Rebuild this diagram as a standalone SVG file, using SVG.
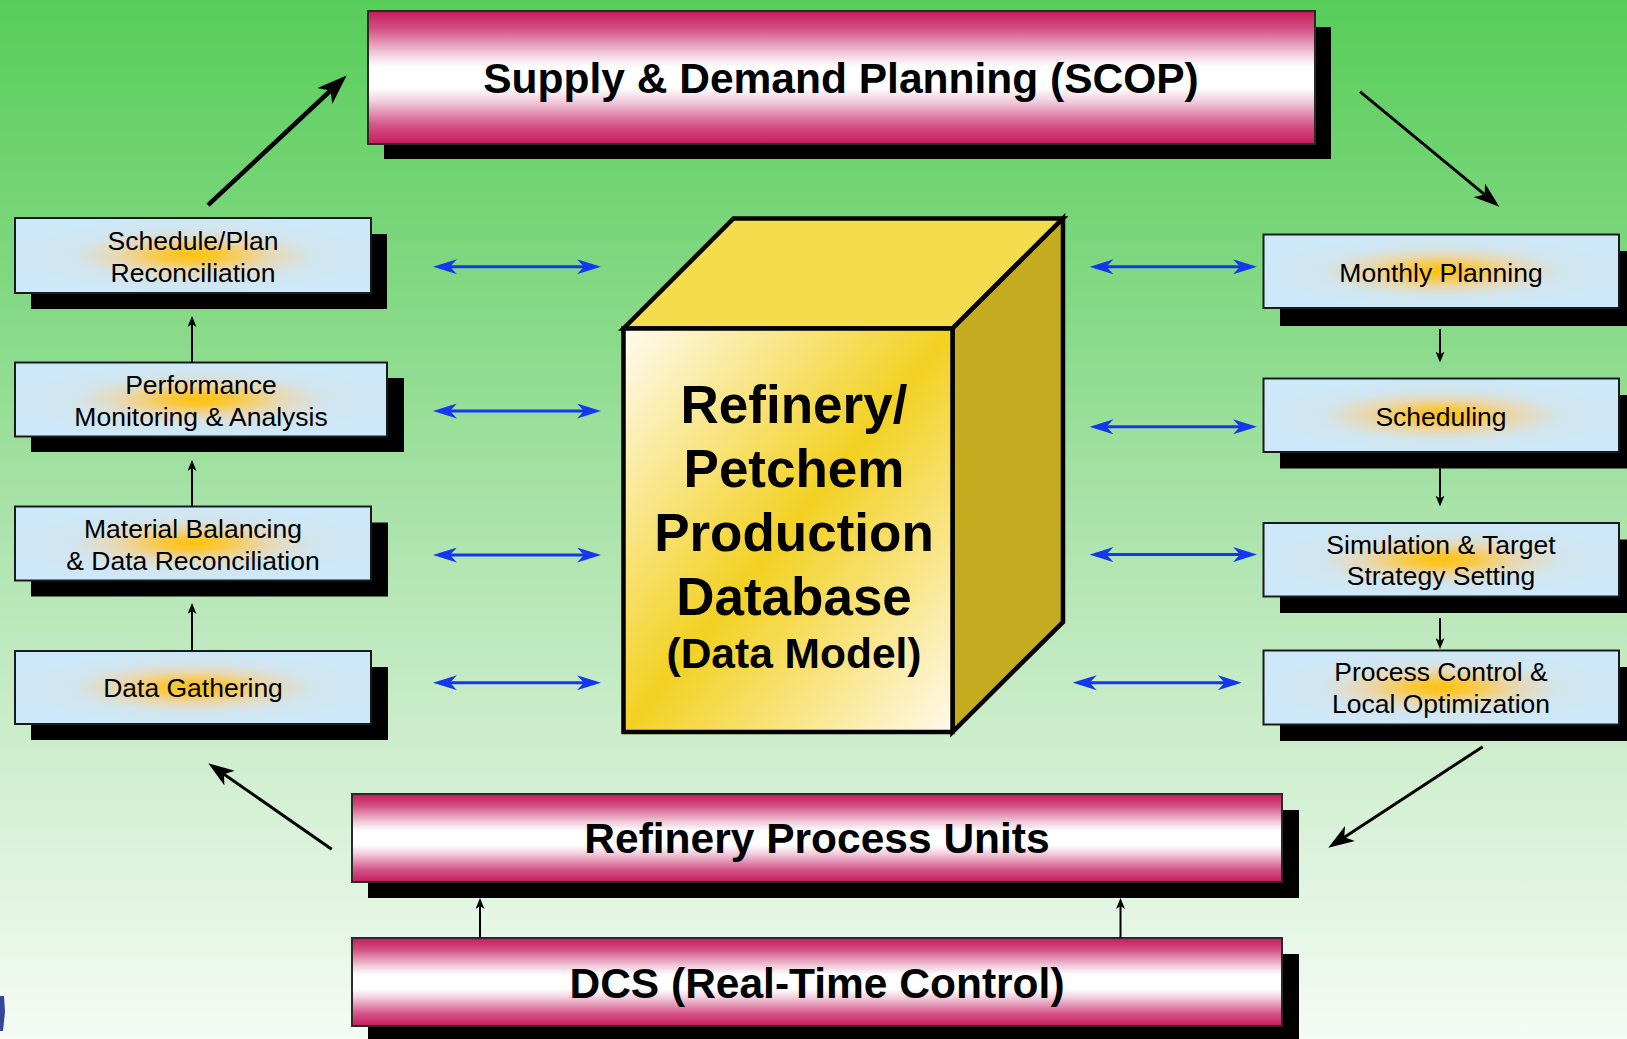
<svg xmlns="http://www.w3.org/2000/svg" width="1627" height="1039" viewBox="0 0 1627 1039">
  <defs>
    <linearGradient id="bg" x1="0" y1="0" x2="0" y2="1">
      <stop offset="0" stop-color="#57CD59"/>
      <stop offset="0.3" stop-color="#86D986"/>
      <stop offset="0.6" stop-color="#BCE8BC"/>
      <stop offset="1" stop-color="#F5FBF5"/>
    </linearGradient>
    <linearGradient id="barFill" x1="0" y1="0" x2="0" y2="1">
      <stop offset="0" stop-color="#C71A5A"/>
      <stop offset="0.14" stop-color="#D45487"/>
      <stop offset="0.32" stop-color="#F1CCDB"/>
      <stop offset="0.42" stop-color="#FFFFFF"/>
      <stop offset="0.58" stop-color="#FFFFFF"/>
      <stop offset="0.68" stop-color="#F1CCDB"/>
      <stop offset="0.86" stop-color="#D45487"/>
      <stop offset="1" stop-color="#C71A5A"/>
    </linearGradient>
    <radialGradient id="glow" cx="0.5" cy="0.5" r="0.5">
      <stop offset="0" stop-color="#FFC20A"/>
      <stop offset="0.18" stop-color="#F9C842"/>
      <stop offset="0.42" stop-color="#E8D8B2"/>
      <stop offset="0.68" stop-color="#D2E5EE"/>
      <stop offset="1" stop-color="#CDE8F8"/>
    </radialGradient>
    <linearGradient id="cubeFront" x1="0" y1="0" x2="1" y2="1">
      <stop offset="0" stop-color="#FFFBF2"/>
      <stop offset="0.5" stop-color="#F2D122"/>
      <stop offset="1" stop-color="#FFF9EC"/>
    </linearGradient>
    <marker id="blueHead" markerUnits="userSpaceOnUse" viewBox="0 0 24 15" refX="18" refY="7.5" markerWidth="24" markerHeight="15" orient="auto-start-reverse">
      <path d="M0,0 L24,7.5 L0,15 L7,7.5 Z" fill="#1438F0"/>
    </marker>
    <marker id="thickHead" markerUnits="userSpaceOnUse" viewBox="0 0 30 22" refX="22" refY="11" markerWidth="30" markerHeight="22" orient="auto">
      <path d="M0,0 L30,11 L0,22 L8,11 Z" fill="#000"/>
    </marker>
    <marker id="thinHead" markerUnits="userSpaceOnUse" viewBox="0 0 26 18" refX="20" refY="9" markerWidth="26" markerHeight="18" orient="auto">
      <path d="M0,0 L26,9 L0,18 L7,9 Z" fill="#000"/>
    </marker>
    <marker id="smallHead" markerUnits="userSpaceOnUse" viewBox="0 0 11 9" refX="8" refY="4.5" markerWidth="11" markerHeight="9" orient="auto">
      <path d="M0,0 L11,4.5 L0,9 L3,4.5 Z" fill="#000"/>
    </marker>
  </defs>
  <style>
    .shadow { fill: #000; }
    .bar { fill: url(#barFill); stroke: #2a2a2a; stroke-width: 2; }
    .box { fill: url(#glow); stroke: #1a1a1a; stroke-width: 2; }
    .barText { font-family: "Liberation Sans", Arial, sans-serif; font-weight: bold; font-size: 42.5px; text-anchor: middle; fill: #000; }
    .boxText { font-family: "Liberation Sans", Arial, sans-serif; font-size: 26.5px; text-anchor: middle; fill: #000; }
    .cubeText { font-family: "Liberation Sans", Arial, sans-serif; font-weight: bold; font-size: 53px; text-anchor: middle; fill: #000; }
    .cubeSub { font-family: "Liberation Sans", Arial, sans-serif; font-weight: bold; font-size: 42.5px; text-anchor: middle; fill: #000; }
    .blue { stroke: #1438F0; stroke-width: 3; fill: none; marker-start: url(#blueHead); marker-end: url(#blueHead); }
    .flow { stroke: #000; stroke-width: 3; fill: none; marker-end: url(#thinHead); }
    .flowThick { stroke: #000; stroke-width: 4.5; fill: none; marker-end: url(#thickHead); }
    .step { stroke: #000; stroke-width: 2; fill: none; marker-end: url(#smallHead); }
  </style>

  <!-- background -->
  <rect x="0" y="0" width="1627" height="1039" fill="url(#bg)"/>
  <polygon points="0,996 4,996 5,1012 3,1031 0,1031" fill="#34479A"/>

  <!-- planning bar -->
  <g id="node-scop">
    <rect class="shadow" x="384" y="27" width="947" height="132"/>
    <rect class="bar" x="368" y="11" width="947" height="133"/>
    <text class="barText" x="841" y="93">Supply &amp; Demand Planning (SCOP)</text>
  </g>

  <!-- process units bar -->
  <g id="node-process-units">
    <rect class="shadow" x="368" y="810" width="931" height="88"/>
    <rect class="bar" x="352" y="794" width="930" height="88"/>
    <text class="barText" x="817" y="853">Refinery Process Units</text>
  </g>

  <!-- DCS bar -->
  <g id="node-dcs">
    <rect class="shadow" x="368" y="954" width="931" height="90"/>
    <rect class="bar" x="352" y="938" width="930" height="88"/>
    <text class="barText" x="817" y="998">DCS (Real-Time Control)</text>
  </g>

  <!-- left column -->
  <g id="node-schedule-recon">
    <rect class="shadow" x="31" y="234" width="356" height="75"/>
    <rect class="box" x="15" y="218" width="356" height="75"/>
    <text class="boxText" x="193" y="250">Schedule/Plan</text>
    <text class="boxText" x="193" y="282">Reconciliation</text>
  </g>
  <g id="node-performance">
    <rect class="shadow" x="31" y="378" width="373" height="74"/>
    <rect class="box" x="15" y="362.5" width="372" height="74"/>
    <text class="boxText" x="201" y="393.5">Performance</text>
    <text class="boxText" x="201" y="425.5">Monitoring &amp; Analysis</text>
  </g>
  <g id="node-material">
    <rect class="shadow" x="31" y="522.5" width="357" height="74"/>
    <rect class="box" x="15" y="506.5" width="356" height="74"/>
    <text class="boxText" x="193" y="538">Material Balancing</text>
    <text class="boxText" x="193" y="570">&amp; Data Reconciliation</text>
  </g>
  <g id="node-data-gathering">
    <rect class="shadow" x="31" y="667" width="357" height="73"/>
    <rect class="box" x="15" y="651" width="356" height="73"/>
    <text class="boxText" x="193" y="697">Data Gathering</text>
  </g>

  <!-- right column -->
  <g id="node-monthly">
    <rect class="shadow" x="1280" y="251" width="356" height="75"/>
    <rect class="box" x="1263.5" y="234.5" width="355.5" height="73.5"/>
    <text class="boxText" x="1441" y="282">Monthly Planning</text>
  </g>
  <g id="node-scheduling">
    <rect class="shadow" x="1280" y="395" width="356" height="73.5"/>
    <rect class="box" x="1263.5" y="378.5" width="355.5" height="73.5"/>
    <text class="boxText" x="1441" y="425.5">Scheduling</text>
  </g>
  <g id="node-simulation">
    <rect class="shadow" x="1280" y="539.5" width="356" height="73.5"/>
    <rect class="box" x="1263.5" y="523" width="355.5" height="73.5"/>
    <text class="boxText" x="1441" y="553.5">Simulation &amp; Target</text>
    <text class="boxText" x="1441" y="585">Strategy Setting</text>
  </g>
  <g id="node-process-control">
    <rect class="shadow" x="1280" y="667" width="356" height="74"/>
    <rect class="box" x="1263.5" y="650.5" width="355.5" height="74"/>
    <text class="boxText" x="1441" y="680.5">Process Control &amp;</text>
    <text class="boxText" x="1441" y="712.5">Local Optimization</text>
  </g>

  <!-- production database cube -->
  <g id="node-database" stroke="#000" stroke-width="4.5" stroke-linejoin="miter">
    <polygon points="623.5,328.5 733.5,218.5 1063,218.5 952.5,328.5" fill="#F5DC4C"/>
    <polygon points="952.5,328.5 1063,218.5 1063,622 952.5,732" fill="#C4AB1F"/>
    <rect x="623.5" y="328.5" width="329" height="403.5" fill="url(#cubeFront)"/>
    <g stroke="none">
      <text class="cubeText" x="794" y="423">Refinery/</text>
      <text class="cubeText" x="794" y="486.5">Petchem</text>
      <text class="cubeText" x="794" y="551">Production</text>
      <text class="cubeText" x="794" y="614.5">Database</text>
      <text class="cubeSub" x="794" y="668">(Data Model)</text>
    </g>
  </g>

  <!-- connectors -->
  <g id="connectors">
    <!-- exchange with the database -->
    <line class="blue" x1="439" y1="266.7" x2="595" y2="266.7"/>
    <line class="blue" x1="439" y1="411" x2="595" y2="411"/>
    <line class="blue" x1="439" y1="555" x2="595" y2="555"/>
    <line class="blue" x1="439" y1="682.7" x2="595" y2="682.7"/>
    <line class="blue" x1="1095.5" y1="266.8" x2="1251" y2="266.8"/>
    <line class="blue" x1="1095.5" y1="426.8" x2="1251" y2="426.8"/>
    <line class="blue" x1="1095.5" y1="554.6" x2="1251" y2="554.6"/>
    <line class="blue" x1="1078.7" y1="682.7" x2="1235.7" y2="682.7"/>

    <!-- outer loop -->
    <line class="flowThick" x1="208" y1="205.2" x2="340.8" y2="81"/>
    <line class="flow" x1="1360" y1="91.7" x2="1494.7" y2="202.9"/>
    <line class="flow" x1="1482.7" y1="746.7" x2="1333.3" y2="844.4"/>
    <line class="flow" x1="331.7" y1="849.3" x2="213.2" y2="766.7"/>

    <!-- left column upward -->
    <line class="step" x1="192" y1="651" x2="192" y2="606"/>
    <line class="step" x1="192" y1="506.5" x2="192" y2="463"/>
    <line class="step" x1="192" y1="362.5" x2="192" y2="319"/>

    <!-- right column downward -->
    <line class="step" x1="1440" y1="329" x2="1440" y2="359.5"/>
    <line class="step" x1="1440" y1="468.5" x2="1440" y2="503.5"/>
    <line class="step" x1="1440" y1="618" x2="1440" y2="646"/>

    <!-- DCS to process units -->
    <line class="step" x1="480" y1="938" x2="480" y2="901"/>
    <line class="step" x1="1120.5" y1="938" x2="1120.5" y2="901"/>
  </g>
</svg>
